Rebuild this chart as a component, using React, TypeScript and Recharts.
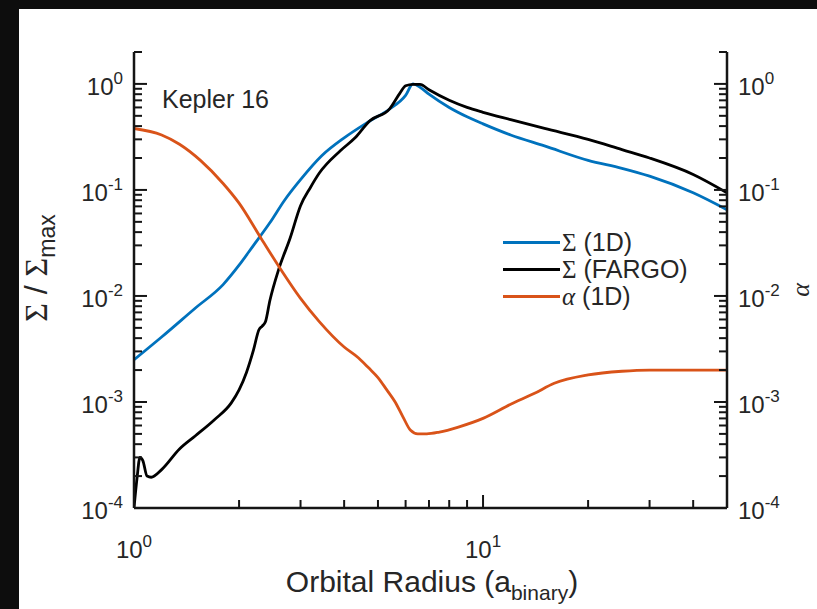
import React from "react";
import { LineChart, Line, XAxis, YAxis, Legend } from "recharts";

// ---- data ----
const sigma1DRadius = [1.0, 1.2, 1.5, 1.8, 2.0, 2.2, 2.45, 2.7, 3.0, 3.45, 4.0, 4.7, 5.4, 6.0, 6.3, 6.6, 7.0, 8.0, 9.0, 10, 12, 15, 20, 25, 30, 40, 50];
const sigma1DValue = [0.0025, 0.0041, 0.0077, 0.0128, 0.0195, 0.03, 0.049, 0.08, 0.125, 0.21, 0.31, 0.44, 0.58, 0.78, 1.0, 0.93, 0.8, 0.6, 0.49, 0.42, 0.33, 0.26, 0.19, 0.16, 0.135, 0.094, 0.065];

const sigmaFargoRadius = [1.0, 1.02, 1.04, 1.06, 1.09, 1.12, 1.2, 1.35, 1.5, 1.7, 1.9, 2.0, 2.1, 2.2, 2.28, 2.33, 2.38, 2.45, 2.6, 2.8, 3.0, 3.2, 3.4, 3.9, 4.3, 4.74, 5.4, 5.78, 6.0, 6.3, 6.6, 7.0, 8.0, 9.0, 10, 12, 15, 20, 25, 30, 40, 50];
const sigmaFargoValue = [0.0001, 0.00019, 0.0003, 0.00028, 0.0002, 0.000195, 0.00023, 0.00036, 0.00048, 0.00068, 0.00098, 0.0013, 0.0019, 0.0031, 0.0048, 0.0052, 0.0057, 0.009, 0.018, 0.035, 0.071, 0.105, 0.145, 0.234, 0.31, 0.449, 0.582, 0.82, 0.96, 0.99, 0.99, 0.88, 0.7, 0.6, 0.54, 0.46, 0.38, 0.3, 0.24, 0.2, 0.14, 0.094];

const alpha1DRadius = [1.0, 1.2, 1.35, 1.55, 1.8, 2.0, 2.3, 2.6, 3.0, 3.4, 4.0, 4.4, 4.7, 5.0, 5.3, 5.6, 5.9, 6.2, 6.5, 6.9, 7.5, 8.5, 10, 12, 14, 16, 20, 25, 30, 50];
const alpha1DValue = [0.38, 0.33, 0.27, 0.19, 0.115, 0.075, 0.036, 0.019, 0.0095, 0.0057, 0.0033, 0.0026, 0.0021, 0.0017, 0.0013, 0.001, 0.00072, 0.00054, 0.0005, 0.0005, 0.00052, 0.00058, 0.0007, 0.00095, 0.0012, 0.0015, 0.0018, 0.00195, 0.002, 0.002];

const xTicks = [1, 2, 3, 4, 5, 6, 7, 8, 9, 10, 20, 30, 40];
const yDecades = [1e-4, 1e-3, 1e-2, 1e-1];
const yMinorMultipliers = [1, 2, 3, 4, 5, 6, 7, 8, 9];
const yTicks = [...yDecades.flatMap((d) => yMinorMultipliers.map((m) => m * d)), 1, 2];

const legendLabels = [
  { sym: "Σ", rest: " (1D)", color: "#0072BD", italic: false },
  { sym: "Σ", rest: " (FARGO)", color: "#000000", italic: false },
  { sym: "α", rest: " (1D)", color: "#D95319", italic: true },
];

const sigma1D = sigma1DRadius.map((r, i) => ({ r, v: sigma1DValue[i] }));
const sigmaFargo = sigmaFargoRadius.map((r, i) => ({ r, v: sigmaFargoValue[i] }));
const alpha1D = alpha1DRadius.map((r, i) => ({ r, v: alpha1DValue[i] }));

// ---- styling ----
const FONT = '"Liberation Sans", Arial, Helvetica, sans-serif';
const SERIF = '"Liberation Serif", "Times New Roman", serif';
const AX = "#151515";
const TXT = "#262626";
const TICK_FS = 24;
const SUP_FS = 17;
const TM = 11;

const isPow10 = (v: number) => Math.abs(Math.log10(v) - Math.round(Math.log10(v))) < 1e-9;
const expOf = (v: number) => String(Math.round(Math.log10(v)));

const PowLabel = ({ x, y, v, anchor }: any) => (
  <text x={x} y={y} textAnchor={anchor} fontFamily={FONT} fontSize={TICK_FS} fill={TXT}>
    <tspan>10</tspan>
    <tspan dy={-11} fontSize={SUP_FS}>{expOf(v)}</tspan>
  </text>
);

const LeftTick = (props: any) => {
  const { x, y, payload } = props;
  const v = payload.value;
  const major = isPow10(v);
  const ax = x + TM;
  return (
    <g>
      <line x1={ax} x2={ax + (major ? 13 : 8)} y1={y} y2={y} stroke={AX} strokeWidth={2} />
      {major && <PowLabel x={x} y={y + 11} v={v} anchor="end" />}
    </g>
  );
};

const RightTick = (props: any) => {
  const { x, y, payload } = props;
  const v = payload.value;
  const major = isPow10(v);
  const ax = x - TM;
  return (
    <g>
      <line x1={ax} x2={ax - (major ? 13 : 8)} y1={y} y2={y} stroke={AX} strokeWidth={2} />
      {major && <PowLabel x={x} y={y + 11} v={v} anchor="start" />}
    </g>
  );
};

const BottomTick = (props: any) => {
  const { x, y, payload } = props;
  const v = payload.value;
  const major = isPow10(v);
  const ay = y - TM;
  return (
    <g>
      <line x1={x} x2={x} y1={ay} y2={ay - (major ? 13 : 8)} stroke={AX} strokeWidth={2} />
      {major && <PowLabel x={x} y={ay + 50} v={v} anchor="middle" />}
    </g>
  );
};

const TopTick = (props: any) => {
  const { x, y, payload } = props;
  const v = payload.value;
  const major = isPow10(v);
  const ay = y + TM;
  return (
    <g>
      <line x1={x} x2={x} y1={ay} y2={ay + (major ? 13 : 8)} stroke={AX} strokeWidth={2} />
    </g>
  );
};

const LegendContent = () => (
  <div style={{ fontFamily: FONT, fontSize: 25, color: TXT }}>
    {legendLabels.map((l, i) => (
      <div key={i} style={{ display: "flex", alignItems: "center", height: 27, whiteSpace: "pre" }}>
        <svg width={62} height={27} style={{ display: "block" }}>
          <line x1={3} x2={60} y1={13.5} y2={13.5} stroke={l.color} strokeWidth={3} />
        </svg>
        <span style={{ fontFamily: SERIF, fontStyle: l.italic ? "italic" : "normal" }}>{l.sym}</span>
        <span style={{ whiteSpace: "pre" }}>{l.rest}</span>
      </div>
    ))}
  </div>
);

export default function App() {
  return (
    <div style={{ position: "absolute", left: 0, top: 0, width: 817, height: 609, background: "#0d0d0d", overflow: "hidden" }}>
      <div style={{ position: "absolute", left: 19, top: 9, width: 798, height: 600, background: "#ffffff" }} />
      <div style={{ position: "absolute", left: 0, top: 0 }}>
        <LineChart width={817} height={609} margin={{ top: 52, right: 30, bottom: 51, left: 54 }}>
          <XAxis
            xAxisId="bottom"
            dataKey="r"
            type="number"
            scale="log"
            domain={[1, 50]}
            allowDataOverflow
            ticks={xTicks}
            interval={0}
            height={50}
            tickSize={0}
            tickMargin={TM}
            tick={<BottomTick />}
            axisLine={{ stroke: AX, strokeWidth: 2.5 }}
            tickLine={false}
          />
          <XAxis
            xAxisId="top"
            orientation="top"
            dataKey="r"
            type="number"
            scale="log"
            domain={[1, 50]}
            allowDataOverflow
            ticks={xTicks}
            interval={0}
            height={0}
            tickSize={0}
            tickMargin={TM}
            tick={<TopTick />}
            axisLine={{ stroke: AX, strokeWidth: 2.5 }}
            tickLine={false}
          />
          <YAxis
            yAxisId="left"
            type="number"
            scale="log"
            domain={[1e-4, 2]}
            allowDataOverflow
            ticks={yTicks}
            interval={0}
            width={80}
            tickSize={0}
            tickMargin={TM}
            tick={<LeftTick />}
            axisLine={{ stroke: AX, strokeWidth: 2.5 }}
            tickLine={false}
          />
          <YAxis
            yAxisId="right"
            orientation="right"
            type="number"
            scale="log"
            domain={[1e-4, 2]}
            allowDataOverflow
            ticks={yTicks}
            interval={0}
            width={60}
            tickSize={0}
            tickMargin={TM}
            tick={<RightTick />}
            axisLine={{ stroke: AX, strokeWidth: 2.5 }}
            tickLine={false}
          />
          <Line data={sigma1D} xAxisId="bottom" yAxisId="left" dataKey="v" type="monotone" stroke="#0072BD" strokeWidth={2.8} dot={false} isAnimationActive={false} />
          <Line data={sigmaFargo} xAxisId="bottom" yAxisId="left" dataKey="v" type="monotone" stroke="#000000" strokeWidth={2.8} dot={false} isAnimationActive={false} />
          <Line data={alpha1D} xAxisId="bottom" yAxisId="right" dataKey="v" type="monotone" stroke="#D95319" strokeWidth={2.8} dot={false} isAnimationActive={false} />
          <Legend
            layout="vertical"
            align="center"
            verticalAlign="middle"
            content={<LegendContent />}
            wrapperStyle={{ position: "absolute", left: 500, top: 229, width: 230 }}
          />
        </LineChart>
      </div>
      <svg width={817} height={609} style={{ position: "absolute", left: 0, top: 0, pointerEvents: "none" }}>
        <text x={162} y={108} fontFamily={FONT} fontSize={25} fill={TXT}>Kepler 16</text>
        <text x={432} y={592} textAnchor="middle" fontFamily={FONT} fontSize={30} fill={TXT}>
          <tspan>Orbital Radius (a</tspan>
          <tspan dy={8} fontSize={21}>binary</tspan>
          <tspan dy={-8}>)</tspan>
        </text>
        <text transform="translate(47,268) rotate(-90)" textAnchor="middle" fontFamily={FONT} fontSize={32} fill={TXT}>
          <tspan fontFamily={SERIF}>Σ</tspan>
          <tspan> / </tspan>
          <tspan fontFamily={SERIF}>Σ</tspan>
          <tspan dy={8} fontSize={23}>max</tspan>
        </text>
        <text transform="translate(809,290) rotate(-90)" textAnchor="middle" fontFamily={SERIF} fontStyle="italic" fontSize={26} fill={TXT}>α</text>
      </svg>
    </div>
  );
}
